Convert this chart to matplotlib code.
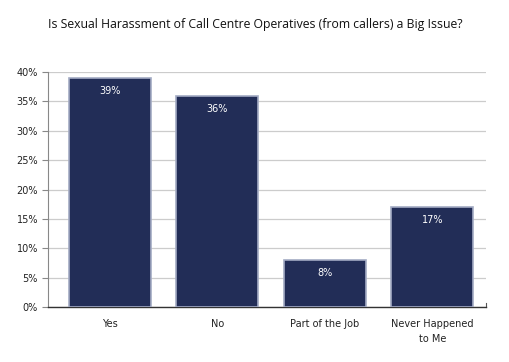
import numpy as np
import matplotlib.pyplot as plt
from matplotlib.ticker import PercentFormatter

categories = ['Yes', 'No', 'Part of the Job', 'Never Happened\nto Me']
values = [39, 36, 8, 17]
labels = ['39%', '36%', '8%', '17%']
yticks = [0, 5, 10, 15, 20, 25, 30, 35, 40]

fig = plt.figure(figsize=(5.1, 3.62), dpi=100)
ax = fig.add_axes([0.095, 0.152, 0.858, 0.649])

x = np.arange(len(categories))
bars = ax.bar(x, values, width=0.76, color='#222d57', edgecolor='#a3abc4', linewidth=1.2, zorder=3)

for b, lab in zip(bars, labels):
    ax.text(b.get_x() + b.get_width() / 2, b.get_height() - 1.4, lab,
            ha='center', va='top', color='white', fontsize=7, zorder=4)

ax.set_xlim(-0.57, 3.50)
ax.set_ylim(0, 40)
ax.set_yticks(yticks)
ax.yaxis.set_major_formatter(PercentFormatter(decimals=0))
ax.set_xticks(x)
ax.set_xticklabels(categories, fontsize=7, color='#222222', linespacing=1.6)
ax.tick_params(axis='y', labelsize=7, length=4, color='#888888', labelcolor='#222222')
ax.tick_params(axis='x', length=0, pad=9)
ax.grid(axis='y', color='#cccccc', linewidth=0.9, zorder=0)

ax.spines['top'].set_visible(False)
ax.spines['right'].set_bounds(0, 0.6)
ax.spines['right'].set_color('#555555')
ax.spines['left'].set_color('#888888')
ax.spines['bottom'].set_color('#333333')
ax.spines['bottom'].set_linewidth(1.0)

fig.text(0.5, 0.931, 'Is Sexual Harassment of Call Centre Operatives (from callers) a Big Issue?',
         ha='center', va='center', fontsize=8.8, family='Open Sans', color='#111111')

fig.savefig('out.png', dpi=100, facecolor='white')
